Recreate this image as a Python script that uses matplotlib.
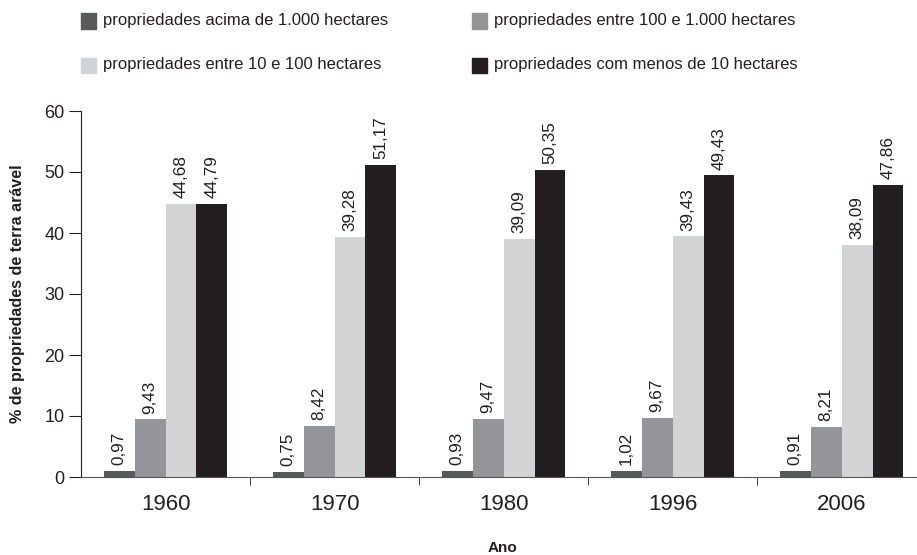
import matplotlib.pyplot as plt
import numpy as np

# data
anos = ["1960", "1970", "1980", "1996", "2006"]
categorias = [
    "propriedades acima de 1.000 hectares",
    "propriedades entre 100 e 1.000 hectares",
    "propriedades entre 10 e 100 hectares",
    "propriedades com menos de 10 hectares",
]
acima_1000 = [0.97, 0.75, 0.93, 1.02, 0.91]
entre_100_1000 = [9.43, 8.42, 9.47, 9.67, 8.21]
entre_10_100 = [44.68, 39.28, 39.09, 39.43, 38.09]
menos_10 = [44.79, 51.17, 50.35, 49.43, 47.86]

series = [acima_1000, entre_100_1000, entre_10_100, menos_10]
cores = ["#58595b", "#939598", "#d1d3d4", "#231f20"]

plt.rcParams["font.family"] = ["Liberation Sans", "DejaVu Sans"]

fig = plt.figure(figsize=(9.17, 5.55), dpi=100)
ax = fig.add_axes([81 / 917, 78 / 555, 835 / 917, 366 / 555])

x = np.arange(len(anos))
w = 0.183
for i, (vals, cor) in enumerate(zip(series, cores)):
    pos = x + (i - 1.5) * w
    ax.bar(pos, vals, width=w, color=cor, zorder=2)
    for p, v in zip(pos, vals):
        ax.annotate(f"{v:.2f}".replace(".", ","), (p, v), xytext=(0, 4.3),
                    textcoords="offset points", rotation=90, ha="center",
                    va="bottom", fontsize=12.3, color="#231f20")

ax.set_xlim(-0.5, 4.44)
ax.set_ylim(0, 60)
ax.set_yticks(range(0, 61, 10))
ax.set_xticks(x)
ax.set_xticklabels(anos, fontsize=16, color="#231f20")
ax.set_xticks(np.arange(0.5, 4, 1), minor=True)
ax.tick_params(axis="x", which="major", length=0, pad=12)
ax.tick_params(axis="x", which="minor", length=5.5, direction="out", color="#231f20")
ax.tick_params(axis="y", labelsize=13, length=9, color="#231f20", labelcolor="#231f20", pad=3)

for s in ["top", "right"]:
    ax.spines[s].set_visible(False)
ax.spines["left"].set_color("#231f20")
ax.spines["bottom"].set_color("#555555")

ax.set_ylabel("% de propriedades de terra arável", fontsize=11.6, fontweight="bold",
              color="#231f20", labelpad=14)
ax.set_xlabel("Ano", fontsize=11, fontweight="bold", color="#231f20", va="center")
ax.xaxis.set_label_coords(0.5 - 0 / 835 + (503 - 81 - 417.5) / 835, -71 / 366)

# legend
leg_pos = [(81, 21), (472, 21), (81, 65), (472, 65)]
for (lx, ly), cat, cor in zip(leg_pos, categorias, cores):
    fig.patches.append(plt.Rectangle((lx / 917, 1 - (ly + 7.5) / 555), 15 / 917, 15 / 555,
                                     transform=fig.transFigure, color=cor))
    fig.text((lx + 22) / 917, 1 - ly / 555, cat, fontsize=12,
             color="#231f20", va="center")

fig.savefig("out.png", dpi=100)
